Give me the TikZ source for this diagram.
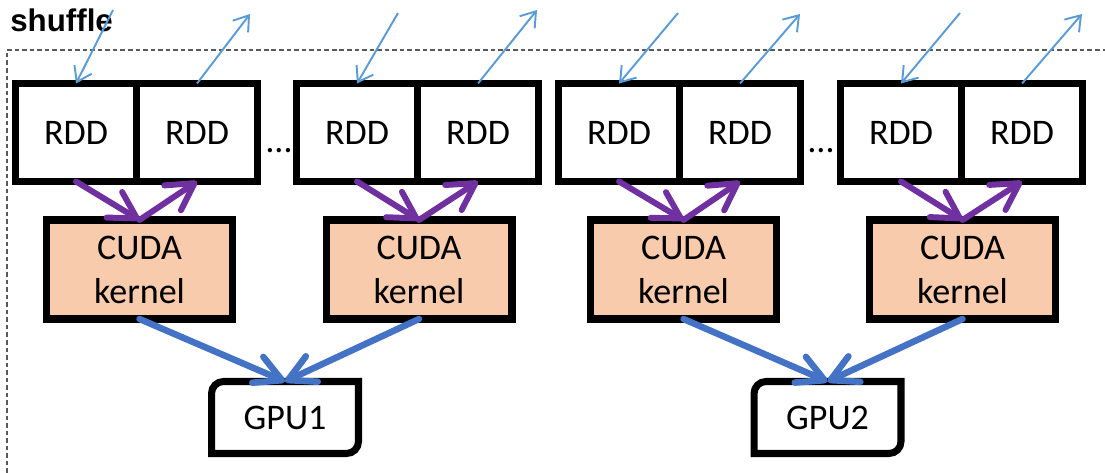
\documentclass[tikz,border=0pt]{standalone}
\usepackage{fontspec}
\setmainfont{Carlito}
\newfontfamily\headfont{Liberation Sans}
\usetikzlibrary{calc, arrows.meta}

\definecolor{kernelfill}{HTML}{F8CBAD}
\definecolor{feedpurple}{HTML}{7030A0}
\definecolor{launchblue}{HTML}{4472C4}
\definecolor{ioblue}{HTML}{5B9BD5}

\begin{document}
\begin{tikzpicture}[x=0.02cm, y=0.02cm,
    rdd/.style={draw, line width=4pt, minimum width=2.42cm, minimum height=1.96cm,
        inner sep=0pt, outer sep=0pt, font=\fontsize{20.5}{25}\selectfont},
    cuda/.style={rdd, fill=kernelfill, minimum width=3.72cm, minimum height=1.98cm, align=center},
    gpu/.style={minimum width=2.94cm, minimum height=1.44cm, inner sep=0pt, outer sep=0pt,
        font=\fontsize{20.5}{25}\selectfont},
    gpuline/.style={line width=4pt},
    frame/.style={black!65, line width=0.6pt, dash pattern=on 2.6pt off 1.7pt},
    feed/.style={feedpurple, line width=3.4pt, line cap=round,
        -{Straight Barb[length=15pt, width=17pt, round]}},
    launch/.style={launchblue, line width=3.7pt, line cap=round,
        -{Straight Barb[length=15pt, width=16pt, round]}},
    io/.style={ioblue, line width=1.1pt, -{Straight Barb[length=8pt, width=11pt]}}]
    \useasboundingbox (0,0) rectangle (1105,473);

    % dashed frame, cut off at right and bottom
    \draw[frame] (7,0) |- (1105,423);
    \node[anchor=base west, inner sep=0pt, font=\headfont\bfseries\fontsize{17.8}{20}\selectfont]
        (title) at (10,441) {shuffle};

    % RDD partitions
    \node[rdd] (rddA1) at (76,340.5) {RDD};
    \node[rdd] (rddA2) at (197,340.5) {RDD};
    \node[rdd] (rddB1) at (357,340.5) {RDD};
    \node[rdd] (rddB2) at (478,340.5) {RDD};
    \node[rdd] (rddC1) at (619,340.5) {RDD};
    \node[rdd] (rddC2) at (740,340.5) {RDD};
    \node[rdd] (rddD1) at (901,340.5) {RDD};
    \node[rdd] (rddD2) at (1022,340.5) {RDD};

    \node[anchor=base, font=\fontsize{20.5}{25}\selectfont] (gapA) at (279,320) {\dots};
    \node[anchor=base, font=\fontsize{20.5}{25}\selectfont] (gapB) at (821,320) {\dots};

    % kernels
    \node[cuda] (cudaA) at (139.5,203.5) {CUDA\\kernel};
    \node[cuda] (cudaB) at (419,203.5) {CUDA\\kernel};
    \node[cuda] (cudaC) at (683.5,203.5) {CUDA\\kernel};
    \node[cuda] (cudaD) at (962.5,203.5) {CUDA\\kernel};

    % devices, rounded on two opposite corners
    \node[gpu] (gpuA) at (285,55.5) {GPU1};
    \node[gpu] (gpuB) at (827.5,55.5) {GPU2};
    \draw[gpuline] ($(gpuA.north west)+(0,-12)$) arc[start angle=180, end angle=90, radius=0.24cm]
        -- (gpuA.north east) -- ($(gpuA.south east)+(0,12)$)
        arc[start angle=0, end angle=-90, radius=0.24cm] -- (gpuA.south west) -- cycle;
    \draw[gpuline] ($(gpuB.north west)+(0,-12)$) arc[start angle=180, end angle=90, radius=0.24cm]
        -- (gpuB.north east) -- ($(gpuB.south east)+(0,12)$)
        arc[start angle=0, end angle=-90, radius=0.24cm] -- (gpuB.south west) -- cycle;

    % shuffle reads and writes
    \coordinate (inA) at (113,463);
    \coordinate (outA) at (250,459);
    \coordinate (inB) at (398,460);
    \coordinate (outB) at (537,463);
    \coordinate (inC) at (678,460);
    \coordinate (outC) at (800,459);
    \coordinate (inD) at (960,460);
    \coordinate (outD) at (1082,459);
    \draw[io] (inA) -- (rddA1.north);
    \draw[io] (rddA2.north) -- (outA);
    \draw[io] (inB) -- (rddB1.north);
    \draw[io] (rddB2.north) -- (outB);
    \draw[io] (inC) -- (rddC1.north);
    \draw[io] (rddC2.north) -- (outC);
    \draw[io] (inD) -- (rddD1.north);
    \draw[io] (rddD2.north) -- (outD);

    % RDD -> kernel -> RDD
    \draw[feed] (rddA1.south) -- (cudaA.north);
    \draw[feed] (cudaA.north) -- (rddA2.south);
    \draw[feed] (rddB1.south) -- (cudaB.north);
    \draw[feed] (cudaB.north) -- (rddB2.south);
    \draw[feed] (rddC1.south) -- (cudaC.north);
    \draw[feed] (cudaC.north) -- (rddC2.south);
    \draw[feed] (rddD1.south) -- (cudaD.north);
    \draw[feed] (cudaD.north) -- (rddD2.south);

    % kernels launched on the devices
    \draw[launch] (cudaA.south) -- (gpuA.north);
    \draw[launch] (cudaB.south) -- (gpuA.north);
    \draw[launch] (cudaC.south) -- (gpuB.north);
    \draw[launch] (cudaD.south) -- (gpuB.north);
\end{tikzpicture}
\end{document}
